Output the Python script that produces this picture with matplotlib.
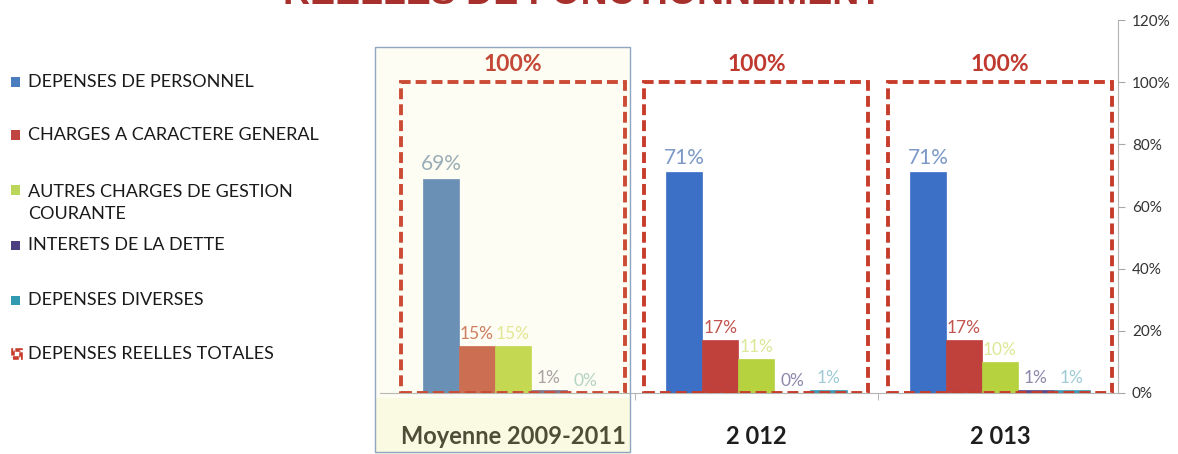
import matplotlib
matplotlib.use('Agg')
import matplotlib.pyplot as plt
from matplotlib.patches import Rectangle
from matplotlib.colors import to_rgb
import numpy as np

plt.rcParams['font.family'] = ['Lato', 'DejaVu Sans']

# chart data
categories = ['Moyenne 2009-2011', '2 012', '2 013']
personnel = [69, 71, 71]
charges_generales = [15, 17, 17]
autres_charges = [15, 11, 10]
interets_dette = [1, 0, 1]
depenses_diverses = [0, 1, 1]
depenses_totales = [100, 100, 100]
y_ticks = [0, 20, 40, 60, 80, 100, 120]

legend_labels = ['DEPENSES DE PERSONNEL', 'CHARGES A CARACTERE GENERAL',
                 'AUTRES CHARGES DE GESTION\nCOURANTE', 'INTERETS DE LA DETTE',
                 'DEPENSES DIVERSES', 'DEPENSES REELLES TOTALES']

series = [personnel, charges_generales, autres_charges, interets_dette, depenses_diverses]
bar_colors = ['#3b70c6', '#c0403c', '#b6d23e', '#574a8c', '#3e9bb5']
label_colors = ['#7b98c6', '#c2554f', '#dde796', '#8f88ac', '#9fcbd6']
legend_colors = ['#4a7cc0', '#c0443f', '#bcd65a', '#4e3f80', '#2f9ab0']
total_color = '#c83c2c'
highlight = '#efe98a'

W, H = 1178, 454


def fx(px):
    return px / W


def fy(py):
    return 1 - py / H


def tint(c, a=0.2):
    # colour seen through the yellow highlight of the first period
    r = np.array(to_rgb(c)) * (1 - a) + np.array(to_rgb(highlight)) * a
    return tuple(r)


fig = plt.figure(figsize=(W / 100, H / 100), dpi=100)
fig.patch.set_facecolor('white')

# cut-off title at the top of the page
fig.text(fx(283), fy(4), 'REELLES DE FONCTIONNEMENT', fontsize=27, fontweight='bold',
         color='#a8302c', family='Liberation Sans', va='baseline', ha='left')

ax = fig.add_axes([fx(380), fy(393), fx(1118) - fx(380), fy(20) - fy(393)])
ax.patch.set_alpha(0)

x = np.arange(len(categories))
bw = 0.148
sizes = [15, 12.5, 12.5, 12.5, 12.5]

for i, vals in enumerate(series):
    pos = x + (i - 2) * bw
    cols = [tint(bar_colors[i]), bar_colors[i], bar_colors[i]]
    lcols = [tint(label_colors[i]), label_colors[i], label_colors[i]]
    ax.bar(pos, vals, bw, color=cols, edgecolor=cols, linewidth=0.5, zorder=2)
    for xp, v, lc in zip(pos, vals, lcols):
        ax.annotate(f'{v}%', (xp, v), xytext=(0, 3), textcoords='offset points',
                    ha='center', va='bottom', fontsize=sizes[i], color=lc, zorder=4)

# total outline (100%)
ax.bar(x, depenses_totales, 0.92, fill=False, edgecolor=total_color, linewidth=2.8,
       linestyle=(0, (2.8, 1.3)), zorder=3)
for xp, v in zip(x, depenses_totales):
    ax.annotate(f'{v}%', (xp, v), xytext=(0, 5), textcoords='offset points',
                ha='center', va='bottom', fontsize=16.5, fontweight='bold', color='#c0392f')

ax.set_xlim(-0.546, 2.485)
ax.set_ylim(0, 120)
ax.yaxis.tick_right()
ax.set_yticks(y_ticks)
ax.set_yticklabels([f'{t}%' for t in y_ticks])
ax.tick_params(axis='y', length=5, color='#a8a8a8', labelcolor='#333333', labelsize=11, pad=5)

ax.set_xticks(x)
ax.set_xticklabels(categories, fontweight='bold', fontsize=17, color='#1e1e1e')
ax.tick_params(axis='x', which='major', length=0, pad=23)
ax.set_xticks([0.5, 1.5], minor=True)
ax.tick_params(axis='x', which='minor', length=5, color='#a8a8a8')

for s in ['left', 'top']:
    ax.spines[s].set_visible(False)
for s in ['right', 'bottom']:
    ax.spines[s].set_color('#b4b4b4')
    ax.spines[s].set_linewidth(0.8)

# highlighted first period
fig.add_artist(Rectangle((fx(375), -0.02), fx(630) - fx(375), fy(47) + 0.02,
                         transform=fig.transFigure, facecolor=highlight, alpha=0.09,
                         edgecolor='none', zorder=5))
fig.add_artist(Rectangle((fx(375), -0.02), fx(630) - fx(375), fy(398) + 0.02,
                         transform=fig.transFigure, facecolor=highlight, alpha=0.16,
                         edgecolor='none', zorder=5))
fig.add_artist(Rectangle((fx(375), fy(452)), fx(630) - fx(375), fy(47) - fy(452),
                         transform=fig.transFigure, fill=False, edgecolor='#8ea6bf',
                         linewidth=1, zorder=6))

# legend drawn by hand on the left
legend_y = [82, 135, 190, 245, 300, 354]
text_y = [82, 135, 203, 245, 300, 354]
for i, label in enumerate(legend_labels):
    yc = legend_y[i]
    if i < 5:
        fig.add_artist(Rectangle((fx(11), fy(yc + 4.5)), fx(9), 9 / H,
                                 transform=fig.transFigure, facecolor=legend_colors[i],
                                 edgecolor='none'))
    else:
        fig.add_artist(Rectangle((fx(13), fy(yc + 4)), fx(8), 8 / H,
                                 transform=fig.transFigure, fill=False, edgecolor=total_color,
                                 linewidth=2.6, linestyle=(0, (1.6, 0.6))))
    fig.text(fx(28), fy(text_y[i]), label, fontsize=13, color='#1a1a1a',
             va='center', ha='left', linespacing=1.45)

fig.savefig('out.png', dpi=100)
